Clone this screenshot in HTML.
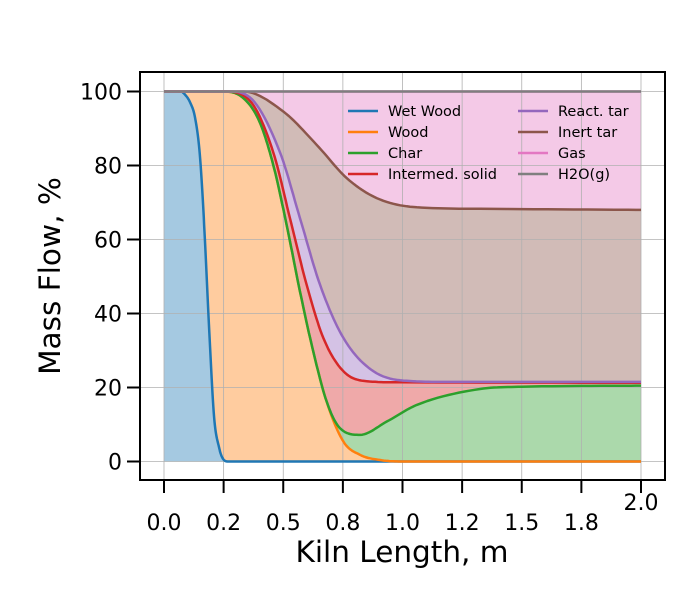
<!DOCTYPE html>
<html><head><meta charset="utf-8"><style>
html,body{margin:0;padding:0;background:#fff;}
svg{display:block;font-family:"DejaVu Sans","Liberation Sans",sans-serif;}
</style></head><body>
<svg id="chart" width="700" height="600" viewBox="0 0 700 600" xmlns="http://www.w3.org/2000/svg">
<g id="fills"></g>
<g id="grid"></g>
<g id="lines"></g>
<rect x="140" y="72" width="525" height="408" fill="none" stroke="#000" stroke-width="2"/>
<g id="xticks"></g>
<g id="yticks"></g>
<text x="402" y="562" font-size="29.5" text-anchor="middle">Kiln Length, m</text>
<text x="60" y="276" font-size="29.5" text-anchor="middle" transform="rotate(-90 60 276)">Mass Flow, %</text>
<g id="legend"></g>
</svg>
<script>
const wetX=[0,0.07,0.09,0.11,0.13,0.15,0.17,0.19,0.21,0.23,0.25,0.27,2.0];
const wetY=[100,100,99,97,93,83,62,35,12,4,0.5,0,0];
const woodX=[0,0.25,0.333,0.40,0.458,0.514,0.57,0.626,0.682,0.752,0.822,0.906,1.0,2.0];
const woodY=[100,100,98.2,91.9,80.2,64,46,29.7,16.2,5.4,1.8,0.4,0,0];
const charX=[0,0.25,0.333,0.40,0.458,0.514,0.57,0.626,0.682,0.738,0.822,0.934,1.06,1.325,1.5,2.0];
const charY=[100,100,98.2,91.9,80.2,64,46,29.7,16.2,9.0,7.2,10.8,15.3,19.6,20.2,20.5];
const interX=[0,0.25,0.36,0.458,0.528,0.598,0.668,0.752,0.85,0.99,2.0];
const interY=[100,100,97.5,83.6,65.8,47.8,33.4,24.4,21.7,21.4,21.3];
const tarX=[0,0.27,0.36,0.486,0.57,0.654,0.752,0.878,1.045,1.2,2.0];
const tarY=[100,100,98.4,83.6,65.8,47.8,33.4,24.4,21.7,21.5,21.5];
const inertX=[0,0.333,0.5,0.64,0.766,0.892,1.06,1.325,2.0];
const inertY=[100,100,94.6,85.6,76.6,71.2,68.7,68.3,68];
const gasX=[0,2.0];
const gasY=[100,100];
const h2oX=[0,2.0];
const h2oY=[100,100];
const seriesNames=["Wet Wood","Wood","Char","Intermed. solid","React. tar","Inert tar","Gas","H2O(g)"];
const xTickVals=[0,0.25,0.5,0.75,1.0,1.25,1.5,1.75];
const xTickLabels=["0.0","0.2","0.5","0.8","1.0","1.2","1.5","1.8"];
const yTickVals=[0,20,40,60,80,100];

const colors=["#1f77b4","#ff7f0e","#2ca02c","#d62728","#9467bd","#8c564b","#e377c2","#7f7f7f"];
const NS="http://www.w3.org/2000/svg";
const sx=v=>164+v*238.5;
const sy=v=>461.5-v*3.7;
const series=[[wetX,wetY],[woodX,woodY],[charX,charY],[interX,interY],[tarX,tarY],[inertX,inertY],[gasX,gasY],[h2oX,h2oY]];
function dense(xs,ys){
  const n=xs.length;if(n<3){return xs.map((x,i)=>[x,ys[i]]);}
  const d=[],m=new Array(n);
  for(let i=0;i<n-1;i++)d.push((ys[i+1]-ys[i])/(xs[i+1]-xs[i]));
  m[0]=d[0];m[n-1]=d[n-2];
  for(let i=1;i<n-1;i++){m[i]=(d[i-1]*d[i]<=0)?0:(d[i-1]+d[i])/2;}
  for(let i=0;i<n-1;i++){if(d[i]===0){m[i]=0;m[i+1]=0;}else{const a=m[i]/d[i],b=m[i+1]/d[i],s=a*a+b*b;if(s>9){const t=3/Math.sqrt(s);m[i]=t*a*d[i];m[i+1]=t*b*d[i];}}}
  const out=[];
  for(let i=0;i<n-1;i++){const h=xs[i+1]-xs[i];const K=12;
    for(let k=0;k<K;k++){const t=k/K,t2=t*t,t3=t2*t;
      const y=(2*t3-3*t2+1)*ys[i]+(t3-2*t2+t)*h*m[i]+(-2*t3+3*t2)*ys[i+1]+(t3-t2)*h*m[i+1];
      out.push([xs[i]+t*h,y]);}}
  out.push([xs[n-1],ys[n-1]]);return out;}
function pts(s){return dense(s[0],s[1]).map(p=>sx(p[0]).toFixed(1)+","+sy(p[1]).toFixed(1));}
const fills=document.getElementById('fills');
for(let i=0;i<8;i++){
  const up=pts(series[i]);
  let low;
  if(i===0){low=[sx(2)+","+sy(0),sx(0)+","+sy(0)];}
  else{low=pts(series[i-1]).reverse();}
  const p=document.createElementNS(NS,'polygon');
  p.setAttribute('points',up.concat(low).join(' '));
  p.setAttribute('fill',colors[i]);p.setAttribute('fill-opacity','0.4');
  
  
  fills.appendChild(p);
}
const grid=document.getElementById('grid');
const allX=xTickVals.concat([2.0]);
allX.forEach(v=>{const l=document.createElementNS(NS,'line');
  l.setAttribute('x1',sx(v));l.setAttribute('x2',sx(v));l.setAttribute('y1',72);l.setAttribute('y2',480);
  l.setAttribute('stroke','#b0b0b0');l.setAttribute('stroke-width','0.8');
  
  
  grid.appendChild(l);});
yTickVals.forEach(v=>{const l=document.createElementNS(NS,'line');
  l.setAttribute('x1',140);l.setAttribute('x2',665);l.setAttribute('y1',sy(v));l.setAttribute('y2',sy(v));
  l.setAttribute('stroke','#b0b0b0');l.setAttribute('stroke-width','0.8');
  
  
  grid.appendChild(l);});
const lines=document.getElementById('lines');
for(let i=0;i<8;i++){
  const p=document.createElementNS(NS,'polyline');
  p.setAttribute('points',pts(series[i]).join(' '));
  p.setAttribute('fill','none');p.setAttribute('stroke',colors[i]);p.setAttribute('stroke-width','2.5');
  p.setAttribute('stroke-linejoin','round');
  
  
  lines.appendChild(p);
}
const xt=document.getElementById('xticks');
allX.forEach((v,i)=>{const l=document.createElementNS(NS,'line');
  l.setAttribute('x1',sx(v));l.setAttribute('x2',sx(v));l.setAttribute('y1',480);l.setAttribute('y2',493);
  l.setAttribute('stroke','#000');l.setAttribute('stroke-width','2');
  
  
  xt.appendChild(l);
  const t=document.createElementNS(NS,'text');
  const last=i===allX.length-1;
  t.setAttribute('x',sx(v));t.setAttribute('y',last?510:530);
  t.setAttribute('font-size','22');t.setAttribute('text-anchor','middle');
  t.textContent=last?"2.0":xTickLabels[i];
  
  
  xt.appendChild(t);});
const yt=document.getElementById('yticks');
yTickVals.forEach(v=>{const l=document.createElementNS(NS,'line');
  l.setAttribute('x1',127);l.setAttribute('x2',140);l.setAttribute('y1',sy(v));l.setAttribute('y2',sy(v));
  l.setAttribute('stroke','#000');l.setAttribute('stroke-width','2');
  
  
  yt.appendChild(l);
  const t=document.createElementNS(NS,'text');
  t.setAttribute('x',122);t.setAttribute('y',sy(v)+8);
  t.setAttribute('font-size','22');t.setAttribute('text-anchor','end');
  t.textContent=String(v);
  
  
  yt.appendChild(t);});
const lg=document.getElementById('legend');
seriesNames.forEach((n,i)=>{
  const col=i<4?0:1,row=i%4;
  const x0=col?518:348,y0=111+row*21;
  const l=document.createElementNS(NS,'line');
  l.setAttribute('x1',x0);l.setAttribute('x2',x0+30);l.setAttribute('y1',y0);l.setAttribute('y2',y0);
  l.setAttribute('stroke',colors[i]);l.setAttribute('stroke-width','2.5');
  
  
  lg.appendChild(l);
  const t=document.createElementNS(NS,'text');
  t.setAttribute('x',x0+40);t.setAttribute('y',y0+5);t.setAttribute('font-size','14.5');
  t.textContent=n;
  
  
  lg.appendChild(t);
});
</script>
</body></html>
